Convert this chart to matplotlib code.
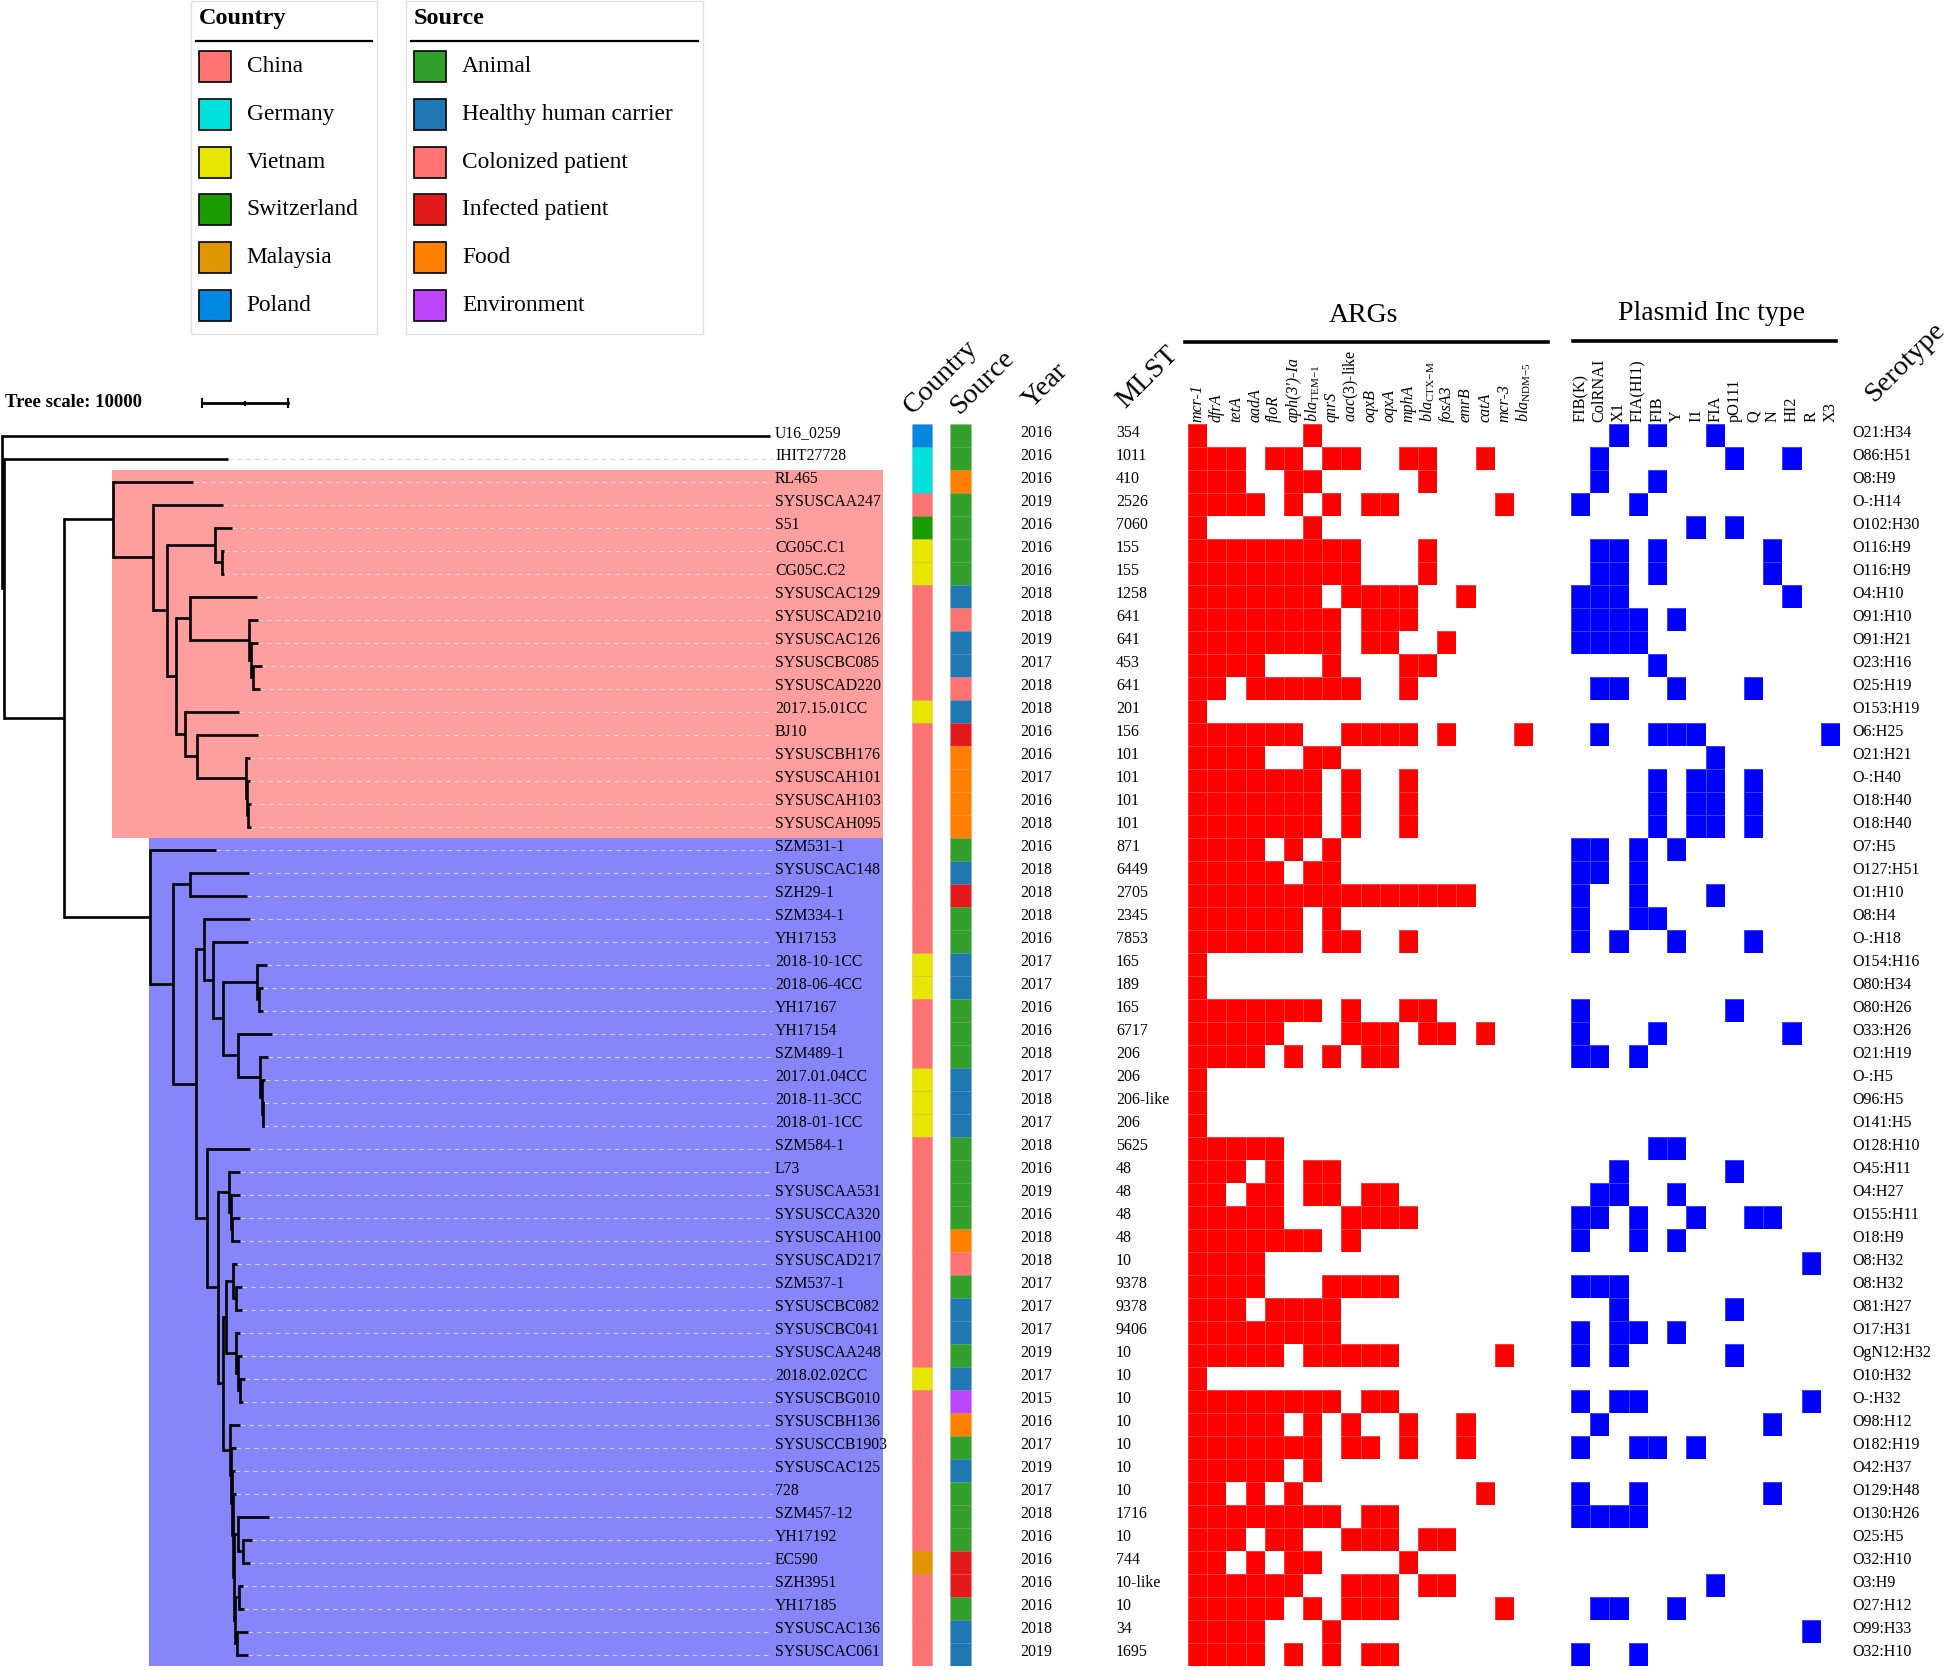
import matplotlib
matplotlib.use("Agg")
import matplotlib.pyplot as plt
import numpy as np
from matplotlib.colors import ListedColormap
from matplotlib.patches import Rectangle

plt.rcParams['font.family'] = ['Liberation Serif', 'DejaVu Serif']
plt.rcParams['mathtext.fontset'] = 'custom'
plt.rcParams['mathtext.rm'] = 'Liberation Serif'
plt.rcParams['mathtext.it'] = 'Liberation Serif:italic'
plt.rcParams['mathtext.bf'] = 'Liberation Serif:bold'

# ---------------- data ----------------
strains = ['U16_0259', 'IHIT27728', 'RL465', 'SYSUSCAA247', 'S51', 'CG05C.C1', 'CG05C.C2',
           'SYSUSCAC129', 'SYSUSCAD210', 'SYSUSCAC126', 'SYSUSCBC085', 'SYSUSCAD220',
           '2017.15.01CC', 'BJ10', 'SYSUSCBH176', 'SYSUSCAH101', 'SYSUSCAH103', 'SYSUSCAH095',
           'SZM531-1', 'SYSUSCAC148', 'SZH29-1', 'SZM334-1', 'YH17153', '2018-10-1CC',
           '2018-06-4CC', 'YH17167', 'YH17154', 'SZM489-1', '2017.01.04CC', '2018-11-3CC',
           '2018-01-1CC', 'SZM584-1', 'L73', 'SYSUSCAA531', 'SYSUSCCA320', 'SYSUSCAH100',
           'SYSUSCAD217', 'SZM537-1', 'SYSUSCBC082', 'SYSUSCBC041', 'SYSUSCAA248',
           '2018.02.02CC', 'SYSUSCBG010', 'SYSUSCBH136', 'SYSUSCCB1903', 'SYSUSCAC125', '728',
           'SZM457-12', 'YH17192', 'EC590', 'SZH3951', 'YH17185', 'SYSUSCAC136', 'SYSUSCAC061']

country = ['PL', 'DE', 'DE', 'CN', 'CH', 'VN', 'VN', 'CN', 'CN', 'CN', 'CN', 'CN', 'VN', 'CN',
           'CN', 'CN', 'CN', 'CN', 'CN', 'CN', 'CN', 'CN', 'CN', 'VN', 'VN', 'CN', 'CN', 'CN',
           'VN', 'VN', 'VN', 'CN', 'CN', 'CN', 'CN', 'CN', 'CN', 'CN', 'CN', 'CN', 'CN', 'VN',
           'CN', 'CN', 'CN', 'CN', 'CN', 'CN', 'CN', 'MY', 'CN', 'CN', 'CN', 'CN']

source = ['A', 'A', 'F', 'A', 'A', 'A', 'A', 'H', 'C', 'H', 'H', 'C', 'H', 'I', 'F', 'F', 'F', 'F',
          'A', 'H', 'I', 'A', 'A', 'H', 'H', 'A', 'A', 'A', 'H', 'H', 'H', 'A', 'A', 'A', 'A', 'F',
          'C', 'A', 'H', 'H', 'A', 'H', 'E', 'F', 'A', 'H', 'A', 'A', 'A', 'I', 'I', 'A', 'H', 'H']

year = [2016, 2016, 2016, 2019, 2016, 2016, 2016, 2018, 2018, 2019, 2017, 2018, 2018, 2016,
        2016, 2017, 2016, 2018, 2016, 2018, 2018, 2018, 2016, 2017, 2017, 2016, 2016, 2018,
        2017, 2018, 2017, 2018, 2016, 2019, 2016, 2018, 2018, 2017, 2017, 2017, 2019, 2017,
        2015, 2016, 2017, 2019, 2017, 2018, 2016, 2016, 2016, 2016, 2018, 2019]

mlst = ['354', '1011', '410', '2526', '7060', '155', '155', '1258', '641', '641', '453', '641',
        '201', '156', '101', '101', '101', '101', '871', '6449', '2705', '2345', '7853', '165',
        '189', '165', '6717', '206', '206', '206-like', '206', '5625', '48', '48', '48', '48',
        '10', '9378', '9378', '9406', '10', '10', '10', '10', '10', '10', '10', '1716', '10',
        '744', '10-like', '10', '34', '1695']

serotype = ['O21:H34', 'O86:H51', 'O8:H9', 'O-:H14', 'O102:H30', 'O116:H9', 'O116:H9', 'O4:H10',
            'O91:H10', 'O91:H21', 'O23:H16', 'O25:H19', 'O153:H19', 'O6:H25', 'O21:H21',
            'O-:H40', 'O18:H40', 'O18:H40', 'O7:H5', 'O127:H51', 'O1:H10', 'O8:H4', 'O-:H18',
            'O154:H16', 'O80:H34', 'O80:H26', 'O33:H26', 'O21:H19', 'O-:H5', 'O96:H5',
            'O141:H5', 'O128:H10', 'O45:H11', 'O4:H27', 'O155:H11', 'O18:H9', 'O8:H32',
            'O8:H32', 'O81:H27', 'O17:H31', 'OgN12:H32', 'O10:H32', 'O-:H32', 'O98:H12',
            'O182:H19', 'O42:H37', 'O129:H48', 'O130:H26', 'O25:H5', 'O32:H10', 'O3:H9',
            'O27:H12', 'O99:H33', 'O32:H10']

arg_genes = ['mcr-1', 'dfrA', 'tetA', 'aadA', 'floR', "aph(3')-Ia",
             r'$\mathit{bla}_{\mathrm{TEM{-}1}}$', 'qnrS', r'$\mathit{aac(3)}$-like', 'oqxB',
             'oqxA', 'mphA', r'$\mathit{bla}_{\mathrm{CTX{-}M}}$', 'fosA3', 'emrB', 'catA',
             'mcr-3', r'$\mathit{bla}_{\mathrm{NDM{-}5}}$']

# column indices of the ARGs present in each strain (row order as strains)
arg_hits = [[0, 6], [0, 1, 2, 4, 5, 7, 8, 11, 12, 15], [0, 1, 2, 5, 6, 12],
            [0, 1, 2, 3, 5, 7, 9, 10, 16], [0, 6], [0, 1, 2, 3, 4, 5, 6, 7, 8, 12],
            [0, 1, 2, 3, 4, 5, 6, 7, 8, 12], [0, 1, 2, 3, 4, 5, 6, 8, 9, 10, 11, 14],
            [0, 1, 2, 3, 4, 5, 6, 7, 9, 10, 11], [0, 1, 2, 3, 4, 5, 6, 7, 9, 10, 13],
            [0, 1, 2, 3, 7, 11, 12], [0, 1, 3, 4, 5, 6, 7, 8, 11], [0],
            [0, 1, 2, 3, 4, 5, 8, 9, 10, 11, 13, 17], [0, 1, 2, 3, 6, 7],
            [0, 1, 2, 3, 4, 5, 6, 8, 11], [0, 1, 2, 3, 4, 5, 6, 8, 11],
            [0, 1, 2, 3, 4, 5, 6, 8, 11], [0, 1, 2, 3, 5, 7], [0, 1, 2, 3, 4, 6, 7],
            [0, 1, 2, 3, 4, 5, 6, 7, 8, 9, 10, 11, 12, 13, 14], [0, 1, 2, 3, 4, 5, 7],
            [0, 1, 2, 3, 4, 5, 7, 8, 11], [0], [0], [0, 1, 2, 3, 4, 5, 6, 8, 11, 12],
            [0, 1, 2, 3, 4, 8, 9, 10, 12, 13, 15], [0, 1, 2, 3, 5, 7, 9, 10], [0], [0], [0],
            [0, 1, 2, 3, 4], [0, 1, 2, 4, 6, 7], [0, 1, 3, 4, 6, 7, 9, 10],
            [0, 1, 2, 3, 4, 8, 9, 10, 11], [0, 1, 2, 3, 4, 5, 6, 8], [0, 1, 2, 3],
            [0, 1, 2, 3, 7, 8, 9, 10], [0, 1, 2, 4, 5, 6, 7], [0, 1, 2, 3, 4, 5, 6, 7],
            [0, 1, 2, 3, 4, 6, 7, 8, 9, 10, 16], [0], [0, 1, 2, 3, 4, 5, 6, 7, 9, 10],
            [0, 1, 2, 3, 4, 6, 8, 11, 14], [0, 1, 2, 3, 4, 5, 6, 8, 9, 11, 14],
            [0, 1, 2, 3, 4, 6], [0, 1, 3, 5, 15], [0, 1, 2, 3, 4, 5, 6, 7, 9, 10],
            [0, 1, 2, 4, 5, 8, 9, 10, 12, 13], [0, 1, 3, 5, 6, 11],
            [0, 1, 2, 3, 4, 5, 8, 9, 10, 12, 13], [0, 1, 2, 3, 4, 6, 8, 9, 10, 16],
            [0, 1, 2, 3, 7], [0, 1, 2, 3, 5, 7, 9, 10]]

inc_types = ['FIB(K)', 'ColRNAI', 'X1', 'FIA(HI1)', 'FIB', 'Y', 'I1', 'FIA', 'pO111', 'Q',
             'N', 'HI2', 'R', 'X3']

inc_hits = [[2, 4, 7], [1, 8, 11], [1, 4], [0, 3], [6, 8], [1, 2, 4, 10], [1, 2, 4, 10],
            [0, 1, 2, 11], [0, 1, 2, 3, 5], [0, 1, 2, 3], [4], [1, 2, 5, 9], [],
            [1, 4, 5, 6, 13], [7], [4, 6, 7, 9], [4, 6, 7, 9], [4, 6, 7, 9], [0, 1, 3, 5],
            [0, 1, 3], [0, 3, 7], [0, 3, 4], [0, 2, 5, 9], [], [], [0, 8], [0, 4, 11],
            [0, 1, 3], [], [], [], [4, 5], [2, 8], [1, 2, 5], [0, 1, 3, 6, 9, 10], [0, 3, 5],
            [12], [0, 1, 2], [2, 8], [0, 2, 3, 5], [0, 2, 8], [], [0, 2, 3, 12], [1, 10],
            [0, 3, 4, 6], [], [0, 3, 10], [0, 1, 2, 3], [], [], [7], [1, 2, 5], [12], [0, 3]]

# tree: (distance from root, children) ; leaves are (distance from root, strain name)
tree = (0, [
    (89300, 'U16_0259'),
    (230, [
        (26280, 'IHIT27728'),
        (7210, [
            (12910, [
                (22210, 'RL465'),
                (17560, [
                    (25700, 'SYSUSCAA247'),
                    (19190, [
                        (24770, [
                            (26740, 'S51'),
                            (25580, [(25810, 'CG05C.C1'), (25810, 'CG05C.C2')]),
                        ]),
                        (20230, [
                            (21860, [
                                (29650, 'SYSUSCAC129'),
                                (28720, [
                                    (29770, 'SYSUSCAD210'),
                                    (28950, [
                                        (29770, 'SYSUSCAC126'),
                                        (29190, [(30230, 'SYSUSCBC085'), (30000, 'SYSUSCAD220')]),
                                    ]),
                                ]),
                            ]),
                            (21280, [
                                (27560, '2017.15.01CC'),
                                (22670, [
                                    (29770, 'BJ10'),
                                    (28370, [
                                        (28840, 'SYSUSCBH176'),
                                        (28490, [
                                            (28840, 'SYSUSCAH101'),
                                            (28600, [(28950, 'SYSUSCAH103'), (28950, 'SYSUSCAH095')]),
                                        ]),
                                    ]),
                                ]),
                            ]),
                        ]),
                    ]),
                ]),
            ]),
            (17210, [
                (24880, 'SZM531-1'),
                (19880, [
                    (21860, [(28720, 'SYSUSCAC148'), (28490, 'SZH29-1')]),
                    (22560, [
                        (23490, [
                            (28840, 'SZM334-1'),
                            (24530, [
                                (28600, 'YH17153'),
                                (25700, [
                                    (29650, [
                                        (30810, '2018-10-1CC'),
                                        (29880, [(30350, '2018-06-4CC'), (30350, 'YH17167')]),
                                    ]),
                                    (27440, [
                                        (31400, 'YH17154'),
                                        (30000, [
                                            (30930, 'SZM489-1'),
                                            (30230, [
                                                (30580, '2017.01.04CC'),
                                                (30350, [(30470, '2018-11-3CC'), (30470, '2018-01-1CC')]),
                                            ]),
                                        ]),
                                    ]),
                                ]),
                            ]),
                        ]),
                        (23840, [
                            (28840, 'SZM584-1'),
                            (25120, [
                                (26400, [
                                    (27670, 'L73'),
                                    (26630, [
                                        (27670, 'SYSUSCAA531'),
                                        (26740, [(27670, 'SYSUSCCA320'), (27670, 'SYSUSCAH100')]),
                                    ]),
                                ]),
                                (25700, [
                                    (26050, [
                                        (26860, [
                                            (27330, 'SYSUSCAD217'),
                                            (27210, [(27910, 'SZM537-1'), (27910, 'SYSUSCBC082')]),
                                        ]),
                                        (27210, [
                                            (27670, 'SYSUSCBC041'),
                                            (27440, [
                                                (27910, 'SYSUSCAA248'),
                                                (27670, [(28260, '2018.02.02CC'), (28020, 'SYSUSCBG010')]),
                                            ]),
                                        ]),
                                    ]),
                                    (26510, [
                                        (27670, 'SYSUSCBH136'),
                                        (26630, [
                                            (27210, 'SYSUSCCB1903'),
                                            (26740, [
                                                (27090, 'SYSUSCAC125'),
                                                (26860, [
                                                    (27210, '728'),
                                                    (26980, [
                                                        (27440, [
                                                            (31050, 'SZM457-12'),
                                                            (28020, [(29070, 'YH17192'), (28840, 'EC590')]),
                                                        ]),
                                                        (27090, [
                                                            (27560, [(28020, 'SZH3951'), (28140, 'YH17185')]),
                                                            (27330, [(28600, 'SYSUSCAC136'), (28600, 'SYSUSCAC061')]),
                                                        ]),
                                                    ]),
                                                ]),
                                            ]),
                                        ]),
                                    ]),
                                ]),
                            ]),
                        ]),
                    ]),
                ]),
            ]),
        ]),
    ]),
])

# highlighted clades: first strain, last strain, clade root distance, colour
clades = [('RL465', 'SYSUSCAH095', 12910, '#ff9e9e'),
          ('SZM531-1', 'SYSUSCAC061', 17210, '#8686fa')]

country_names = ['China', 'Germany', 'Vietnam', 'Switzerland', 'Malaysia', 'Poland']
country_codes = ['CN', 'DE', 'VN', 'CH', 'MY', 'PL']
country_colors = ['#ff7373', '#00e0dc', '#e6e600', '#1a9c00', '#e09600', '#0088e0']

source_names = ['Animal', 'Healthy human carrier', 'Colonized patient', 'Infected patient',
                'Food', 'Environment']
source_codes = ['A', 'H', 'C', 'I', 'F', 'E']
source_colors = ['#33a02c', '#1f78b4', '#ff7373', '#e31a1c', '#ff7f00', '#bd45fc']

# ---------------- layout (pixels) ----------------
W, H = 1952, 1670
ROW_TOP, ROW_H = 424, 23
n = len(strains)
ROW_BOT = ROW_TOP + n * ROW_H
TU = 10000 / 86.0          # tree units per pixel (scale bar 10000 = 86 px)
TXT_DY = -0.2              # row labels sit a little above the row centre

fig = plt.figure(figsize=(W / 100, H / 100), dpi=100)


def px_axes(x0, x1, y0=ROW_TOP, y1=ROW_BOT):
    ax = fig.add_axes([x0 / W, 1 - y1 / H, (x1 - x0) / W, (y1 - y0) / H])
    ax.axis('off')
    return ax


# overlay for legends/headers, in pixel coordinates
ov = px_axes(0, W, 0, H)
ov.set_xlim(0, W)
ov.set_ylim(H, 0)

# ---------------- tree ----------------
axt = px_axes(0, 890)
axt.set_xlim(-2 * TU, 888 * TU)
axt.set_ylim(n - 0.5, -0.5)
row_of = {s: i for i, s in enumerate(strains)}
label_x = 773 * TU
tips = {}


def draw_node(node, parent_d):
    d, kids = node
    if isinstance(kids, str):
        y = row_of[kids]
        tips[kids] = d
    else:
        ys = [draw_node(k, d) for k in kids]
        axt.plot([d, d], [min(ys), max(ys)], color='black', lw=1.9,
                 solid_capstyle='projecting', zorder=3)
        y = (min(ys) + max(ys)) / 2
    axt.plot([parent_d, d], [y, y], color='black', lw=1.9, solid_capstyle='butt', zorder=3)
    return y


draw_node(tree, 0)

for first, last, root_d, col in clades:
    r0, r1 = row_of[first], row_of[last]
    axt.add_patch(Rectangle((root_d - 1.5 * TU, r0 - 0.5), 881 * TU - root_d + 1.5 * TU,
                            r1 - r0 + 1, facecolor=col, edgecolor='none', zorder=1))

for s, i in row_of.items():
    if tips[s] < label_x - 5 * TU:
        axt.plot([tips[s], label_x - 3 * TU], [i, i], color='#d4d4d4', lw=0.8,
                 ls=(0, (4, 4)), zorder=2)
    axt.text(label_x, i + TXT_DY, s, fontsize=11.3, va='center_baseline', ha='left', zorder=4)

# scale bar
bar_len = 10000 / TU
ov.plot([202, 202 + bar_len], [403, 403], color='black', lw=2)
for xx, hh in [(202, 4), (202 + bar_len, 4), (202 + bar_len / 2, 1.5)]:
    ov.plot([xx, xx], [403 - hh, 403 + hh], color='black', lw=1.5)
ov.text(5, 407, 'Tree scale: 10000', fontsize=13.5, fontweight='bold', va='baseline')

# ---------------- metadata strips ----------------
axm = px_axes(890, 1185)
axm.set_xlim(890, 1185)
axm.set_ylim(n - 0.5, -0.5)
rows = np.arange(n)
ccol = [country_colors[country_codes.index(c)] for c in country]
scol = [source_colors[source_codes.index(c)] for c in source]
axm.barh(rows, 20, left=912, height=1, color=ccol, edgecolor=(0.5, 0, 0, 0.12), lw=0.6)
axm.barh(rows, 21, left=950, height=1, color=scol, edgecolor=(0, 0, 0, 0.06), lw=0.6)
for i in range(n):
    axm.text(1020, i + TXT_DY, str(year[i]), fontsize=11.5, va='center_baseline', ha='left')
    axm.text(1116, i + TXT_DY, mlst[i], fontsize=11.5, va='center_baseline', ha='left')

# ---------------- ARG heatmap ----------------
axa = px_axes(1188, 1533)
arg_mat = np.zeros((n, len(arg_genes)))
for i, hits in enumerate(arg_hits):
    arg_mat[i, hits] = 1
axa.pcolormesh(np.arange(len(arg_genes) + 1), np.arange(n + 1), arg_mat,
               cmap=ListedColormap(['white', '#ff0000']), vmin=0, vmax=1,
               edgecolors=(1, 1, 1, 0.25), linewidth=0.4)
axa.set_xlim(0, len(arg_genes))
axa.set_ylim(n, 0)
for j, g in enumerate(arg_genes):
    style = 'normal' if '$' in g else 'italic'
    axa.text(j + 0.5, -0.1, g, rotation=90, rotation_mode='anchor', ha='left', va='center',
             fontsize=11.5, fontstyle=style, clip_on=False)

# ---------------- plasmid heatmap ----------------
axp = px_axes(1571, 1840)
inc_mat = np.zeros((n, len(inc_types)))
for i, hits in enumerate(inc_hits):
    inc_mat[i, hits] = 1
axp.pcolormesh(np.arange(len(inc_types) + 1), np.arange(n + 1), inc_mat,
               cmap=ListedColormap(['white', '#0000ff']), vmin=0, vmax=1,
               edgecolors=(1, 1, 1, 0.25), linewidth=0.4)
axp.set_xlim(0, len(inc_types))
axp.set_ylim(n, 0)
for j, g in enumerate(inc_types):
    axp.text(j + 0.5, -0.1, g, rotation=90, rotation_mode='anchor', ha='left', va='center',
             fontsize=11.7, clip_on=False)

axs = px_axes(1840, W)
axs.set_xlim(1840, W)
axs.set_ylim(n - 0.5, -0.5)
for i, s in enumerate(serotype):
    axs.text(1852, i + TXT_DY, s, fontsize=11.5, va='center_baseline', ha='left')

# ---------------- headers ----------------
ov.text(1363, 322, 'ARGs', ha='center', va='baseline', fontsize=20)
ov.plot([1185, 1548], [342, 342], color='black', lw=2.6)
ov.text(1711, 320, 'Plasmid Inc type', ha='center', va='baseline', fontsize=20)
ov.plot([1573, 1836], [341, 341], color='black', lw=2.6)
for txt, xx, yy in [('Country', 913, 415), ('Source', 959, 415), ('Year', 1032, 409),
                    ('MLST', 1125, 409), ('Serotype', 1874, 403)]:
    ov.text(xx, yy, txt, rotation=45, rotation_mode='anchor', ha='left', va='baseline',
            fontsize=20.5)

# ---------------- legends ----------------
for bx, bw, title, names, cols in [(190.5, 186.5, 'Country', country_names, country_colors),
                                   (406, 297, 'Source', source_names, source_colors)]:
    ov.add_patch(Rectangle((bx, 0.5), bw, 333, facecolor='none', edgecolor='#e2e2e2', lw=1))
    ov.text(bx + 8, 24, title, fontsize=17.5, fontweight='bold', va='baseline')
    ov.plot([bx + 5, bx + bw - 5], [41, 41], color='black', lw=1.6)
    for k, (nm, c) in enumerate(zip(names, cols)):
        yc = 66.5 + k * 47.8
        ov.add_patch(Rectangle((bx + 8, yc - 15.5), 32, 31, facecolor=c, edgecolor='black', lw=1.2))
        ov.text(bx + 56, yc - 2.5, nm, fontsize=16.8, va='center_baseline', ha='left')

fig.savefig('out.png', dpi=100, facecolor='white')
